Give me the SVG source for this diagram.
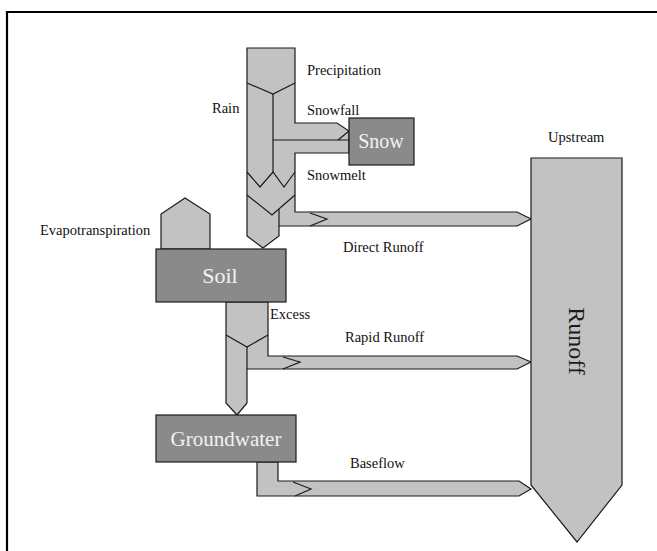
<svg xmlns="http://www.w3.org/2000/svg" width="657" height="551" viewBox="0 0 657 551">
<style>
.flow{fill:#c2c2c2;stroke:#1a1a1a;stroke-width:1.2;stroke-linejoin:miter}
.inner{fill:none;stroke:#1a1a1a;stroke-width:1.2}
.box{fill:#8a8a8a;stroke:#1a1a1a;stroke-width:1.2}
.lbl{font-family:"Liberation Serif","Times New Roman",serif;font-size:14.5px;fill:#111}
.blbl{font-family:"Liberation Serif","Times New Roman",serif;fill:#f2f2f2;text-anchor:middle}
.frame{fill:none;stroke:#000;stroke-width:2.2}
</style>
<rect width="657" height="551" fill="#fff"/>
<path class="frame" d="M7,551 L7,12 L657,12"/>

<g id="connectors">
  <g id="precipitation-flow">
    <polygon class="flow" points="247,48 295,48 295,123 337,123 349,131 349,153 295,153 295,212 517,212 531,219 517,226 279,226 279,236 263,248 247,236"/>
    <polyline class="inner" points="247,83 273,94 295,83"/>
    <line class="inner" x1="273" y1="94" x2="273" y2="172"/>
    <line class="inner" x1="273" y1="140" x2="349" y2="140"/>
    <line class="inner" x1="349" y1="131" x2="338" y2="140"/>
    <polyline class="inner" points="247,172 260,187 273,172 284,187 295,172"/>
    <polyline class="inner" points="247,195 272,215 295,195"/>
    <line class="inner" x1="279" y1="209" x2="279" y2="226"/>
    <polyline class="inner" points="310,213 327,219 310,226"/>
  </g>
  <g id="evapotranspiration-flow">
    <polygon class="flow" points="161,249 161,214 185,198 210,214 210,249"/>
  </g>
  <g id="excess-flow">
    <polygon class="flow" points="226,302 268,302 268,356 517,356 531,362 517,369 247,369 247,403 237,415 226,403"/>
    <polyline class="inner" points="226,335 247,347 268,335"/>
    <line class="inner" x1="247" y1="347" x2="247" y2="369"/>
    <polyline class="inner" points="283,357 300,362 283,369"/>
  </g>
  <g id="baseflow-flow">
    <polygon class="flow" points="257,462 278,462 278,481 519,481 531,489 519,496 257,496"/>
    <polyline class="inner" points="293,482 311,489 295,496"/>
  </g>
</g>

<g id="runoff">
  <polygon class="flow" points="531,158 622,158 622,485 577,542 531,485"/>
  <text class="blbl" transform="translate(569,341) rotate(90)" font-size="24" style="fill:#1a1a1a">Runoff</text>
</g>
<g id="snow">
  <rect class="box" x="349" y="118" width="65" height="47"/>
  <text class="blbl" x="381" y="148" font-size="20">Snow</text>
</g>
<g id="soil">
  <rect class="box" x="156" y="249" width="130" height="53"/>
  <text class="blbl" x="220" y="283" font-size="22">Soil</text>
</g>
<g id="groundwater">
  <rect class="box" x="156" y="415" width="140" height="47"/>
  <text class="blbl" x="226" y="446" font-size="21">Groundwater</text>
</g>

<g id="labels">
  <text class="lbl" x="307" y="75">Precipitation</text>
  <text class="lbl" x="212" y="113">Rain</text>
  <text class="lbl" x="307" y="115">Snowfall</text>
  <text class="lbl" x="307" y="180">Snowmelt</text>
  <text class="lbl" x="343" y="252">Direct Runoff</text>
  <text class="lbl" x="40" y="235">Evapotranspiration</text>
  <text class="lbl" x="270" y="319">Excess</text>
  <text class="lbl" x="345" y="342">Rapid Runoff</text>
  <text class="lbl" x="350" y="468">Baseflow</text>
  <text class="lbl" x="548" y="142">Upstream</text>
</g>
</svg>
